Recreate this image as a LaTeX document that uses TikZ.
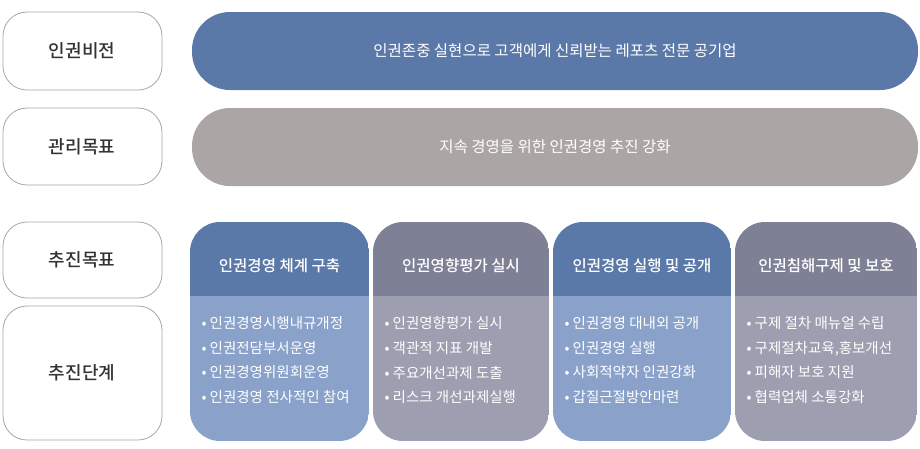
\documentclass[tikz,border=0pt]{standalone}
\usepackage{fontspec}
\setmainfont{Noto Sans CJK KR}
\newfontfamily\krb{Noto Sans CJK KR Medium}
\definecolor{hb}{HTML}{5B79A8}
\definecolor{bb}{HTML}{8AA2CA}
\definecolor{hg}{HTML}{7E8096}
\definecolor{bg}{HTML}{9D9EB0}
\definecolor{gb}{HTML}{ABA6A5}
\definecolor{tx}{HTML}{333333}
\begin{document}
\begin{tikzpicture}[x=1pt,y=-1pt,
  pill/.style={draw=gray!70,line width=0.8pt,rounded corners=24pt,fill=white},
  plabel/.style={font=\krb\fontsize{18}{18}\selectfont,text=tx},
  banner/.style={rounded corners=38pt},
  btext/.style={font=\fontsize{15.5}{15.5}\selectfont,text=white},
  htext/.style={font=\krb\fontsize{15.5}{15.5}\selectfont,text=white},
  items/.style={font=\fontsize{14.5}{24.7}\selectfont,text=white,align=left,anchor=north west}]
\useasboundingbox (0,0) rectangle (920,448);
\draw[pill] (3,12) rectangle (162,90); \node[plabel] (l1) at (82,51) {인권비전};
\draw[pill] (3,108) rectangle (162,185); \node[plabel] (l2) at (82,147) {관리목표};
\draw[pill] (3,222) rectangle (162,298); \node[plabel] (l3) at (82,260) {추진목표};
\draw[pill] (3,306) rectangle (162,440); \node[plabel] (l4) at (82,373) {추진단계};
\fill[hb,banner] (192,12) rectangle (918,90); \node[btext] (b1) at (555,51) {인권존중 실현으로 고객에게 신뢰받는 레포츠 전문 공기업};
\fill[gb,banner] (192,108) rectangle (918,186); \node[btext] (b2) at (555,147) {지속 경영을 위한 인권경영 추진 강화};
\newcommand\col[7]{%
  \begin{scope}
  \clip[rounded corners=30pt] (#1,222) rectangle (#2,441);
  \fill[#3] (#1,222) rectangle (#2,296);
  \fill[#4] (#1,296) rectangle (#2,441);
  \end{scope}
  \node[htext] (h#7) at ({(#1+#2)/2},266) {#5};
  \node[items] (i#7) at (#1+8,313) {#6};}
\col{190}{369}{hb}{bb}{인권경영 체계 구축}{•\ 인권경영시행내규개정\\•\ 인권전담부서운영\\•\ 인권경영위원회운영\\•\ 인권경영 전사적인 참여}{1}
\col{373}{549}{hg}{bg}{인권영향평가 실시}{•\ 인권영향평가 실시\\•\ 객관적 지표 개발\\•\ 주요개선과제 도출\\•\ 리스크 개선과제실행}{2}
\col{553}{731}{hb}{bb}{인권경영 실행 및 공개}{•\ 인권경영 대내외 공개\\•\ 인권경영 실행\\•\ 사회적약자 인권강화\\•\ 갑질근절방안마련}{3}
\col{735}{917}{hg}{bg}{인권침해구제 및 보호}{•\ 구제 절차 매뉴얼 수립\\•\ 구제절차교육,홍보개선\\•\ 피해자 보호 지원\\•\ 협력업체 소통강화}{4}
\end{tikzpicture}
\end{document}
